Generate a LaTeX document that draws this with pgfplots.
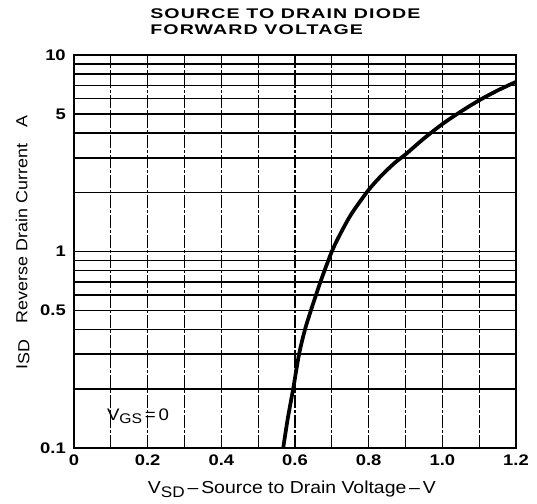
\documentclass[border=0pt]{standalone}
\usepackage{fontspec}
\setmainfont{Liberation Sans}
\newfontfamily\titlefont{Liberation Sans}[FakeStretch=1.4,LetterSpace=8]
\newfontfamily\tickfont{Liberation Sans}[FakeStretch=1.2]
\newfontfamily\labelfont{Liberation Sans}[FakeStretch=1.12]
\usepackage{pgfplots}
\pgfplotsset{compat=1.18}
\begin{document}
\begin{tikzpicture}
\begin{axis}[
  name=ax,
  scale only axis,
  clip=false,
  width=331.5pt, height=294.75pt,
  ymode=log,
  xmin=0, xmax=1.2, ymin=0.1, ymax=10,
  axis line style={line width=1.8pt},
  xtick={0,0.2,0.4,0.6,0.8,1.0,1.2},
  xticklabels={0,0.2,0.4,0.6,0.8,1.0,1.2},
  ytick={0.1,0.5,1,5,10},
  yticklabels={0.1,0.5,1,5,10},
  minor ytick={0.2,0.3,0.4,0.6,0.7,0.8,0.9,2,3,4,6,7,8,9},
  ymajorgrids, yminorgrids,
  major grid style={black, line width=1.2pt},
  minor grid style={black, line width=1.2pt},
  extra x ticks={0.1,0.2,0.3,0.4,0.5,0.6,0.7,0.8,0.9,1.0,1.1},
  extra x tick labels={},
  extra x tick style={grid=major, major grid style={black, line width=0.9pt, dash pattern=on 10pt off 1.5pt on 2pt off 1.5pt}},
  major tick length=0pt, minor tick length=0pt,
  /pgf/number format/assume math mode=true,
  tick label style={font=\tickfont\bfseries\fontsize{11.5}{12}\selectfont},
  xticklabel style={anchor=north, inner sep=0pt, yshift=-5pt},
  yticklabel style={anchor=east, inner sep=0pt, xshift=-6pt},
]
\addplot[black, line width=2.8pt, smooth] coordinates {
(0.568,0.1) (0.580,0.14) (0.595,0.2) (0.611,0.3) (0.627,0.4) (0.643,0.5)
(0.669,0.7) (0.700,1.0) (0.725,1.25) (0.750,1.52) (0.775,1.78) (0.800,2.06)
(0.825,2.33) (0.850,2.6) (0.875,2.87) (0.900,3.12) (0.950,3.76) (1.000,4.45)
(1.050,5.15) (1.100,5.88) (1.150,6.6) (1.200,7.3)
};
\node[anchor=west, inner sep=0pt, font=\labelfont\fontsize{12.5}{13}\selectfont] at (axis cs:0.089,0.1455) {V\raisebox{-2pt}{\fontsize{10.5}{11}\selectfont GS}\,=\,0};
\node[anchor=base west, inner sep=0pt, font=\titlefont\bfseries\fontsize{10.5}{11}\selectfont] at ([yshift=27.5pt]rel axis cs:0.172,1) {SOURCE TO DRAIN DIODE};
\node[anchor=base west, inner sep=0pt, font=\titlefont\bfseries\fontsize{10.5}{11}\selectfont] at ([yshift=15.5pt]rel axis cs:0.172,1) {FORWARD VOLTAGE};
\node[anchor=base, inner sep=0pt, font=\labelfont\fontsize{13}{14}\selectfont] at ([yshift=-33.75pt]rel axis cs:0.493,0) {V\raisebox{-3pt}{\fontsize{11.5}{12}\selectfont SD}\,–\,Source to Drain Voltage\,–\,V};
\node[rotate=90, anchor=center, inner sep=0pt, font=\labelfont\fontsize{12}{13}\selectfont] at ([xshift=-38.6pt]rel axis cs:0,0.523) {I\raisebox{-1.5pt}{SD}\hspace{12pt}Reverse Drain Current\hspace{12pt}A};
\end{axis}
\pgfresetboundingbox
\path ([shift={(-55.5pt,-41.25pt)}]ax.south west) rectangle ([shift={(15.75pt,41.25pt)}]ax.north east);
\end{tikzpicture}
\end{document}
